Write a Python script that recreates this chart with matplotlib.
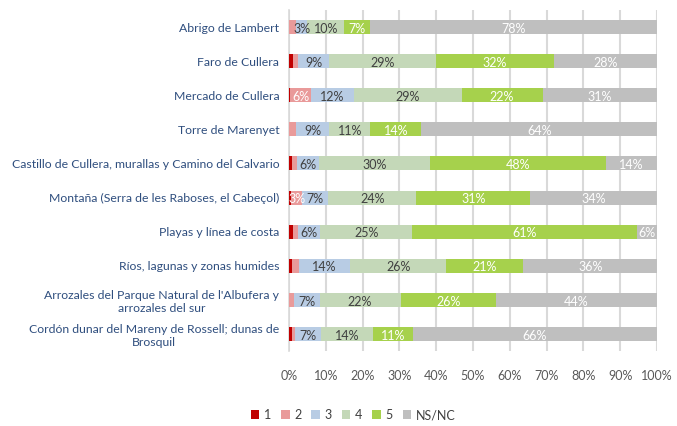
import numpy as np
import matplotlib.pyplot as plt

plt.rcParams['font.family'] = ['Lato', 'DejaVu Sans']

places = ["Abrigo de Lambert",
          "Faro de Cullera",
          "Mercado de Cullera",
          "Torre de Marenyet",
          "Castillo de Cullera, murallas y Camino del Calvario",
          "Montaña (Serra de les Raboses, el Cabeçol)",
          "Playas y línea de costa",
          "Ríos, lagunas y zonas humides",
          "Arrozales del Parque Natural de l'Albufera y\narrozales del sur",
          "Cordón dunar del Mareny de Rossell; dunas de\nBrosquil"]

score1 = [0.0, 1.1, 0.4, 0.0, 0.7, 0.6, 1.2, 0.7, 0.0, 0.7]
score2 = [2.0, 1.3, 5.6, 2.0, 1.5, 3.0, 1.3, 2.0, 1.3, 1.0]
score3 = [3.0, 8.6, 11.6, 9.0, 6.0, 7.0, 6.0, 14.0, 7.0, 7.0]
score4 = [10.0, 29.0, 29.3, 11.0, 30.0, 24.0, 25.0, 26.0, 22.0, 14.0]
score5 = [7.0, 32.0, 22.0, 14.0, 48.0, 31.0, 61.0, 21.0, 26.0, 11.0]
nsnc = [78.0, 28.0, 31.1, 64.0, 13.8, 34.4, 5.5, 36.3, 43.7, 66.3]

series = [("1", score1, "#C00000", "white"),
          ("2", score2, "#E99A9A", "white"),
          ("3", score3, "#B8CCE4", "#404040"),
          ("4", score4, "#C4D8B8", "#404040"),
          ("5", score5, "#A6D14C", "white"),
          ("NS/NC", nsnc, "#BFBFBF", "white")]

fig = plt.figure(figsize=(6.77, 4.26), dpi=100)
ax = fig.add_axes([289 / 677, 1 - 351 / 426, 368 / 677, 341 / 426])

y = np.arange(len(places))
left = np.zeros(len(places))
for name, vals, col, tcol in series:
    vals = np.array(vals)
    ax.barh(y, vals, left=left, height=0.41, color=col, label=name, zorder=3)
    for yi, l, v in zip(y, left, vals):
        if v >= 2.5:
            ax.text(l + v / 2, yi + 0.05, f"{round(v)}%", ha='center', va='center',
                    fontsize=9, color=tcol, zorder=4)
    left += vals

ax.set_xlim(0, 100)
ax.set_ylim(len(places) - 0.5, -0.5)
ax.set_xticks(np.arange(0, 101, 10))
ax.set_xticklabels([f"{t}%" for t in range(0, 101, 10)])
ax.set_yticks(y)
ax.set_yticklabels(places, multialignment='center')
ax.tick_params(axis='y', length=0, pad=7, labelsize=8.8, labelcolor='#2F4E7E')
ax.tick_params(axis='x', length=0, pad=14, labelsize=9, labelcolor='#595959')
ax.grid(axis='x', color='#D9D9D9', linewidth=1.5, zorder=0)
for s in ['top', 'right', 'bottom']:
    ax.spines[s].set_visible(False)
ax.spines['left'].set_color('#D9D9D9')
ax.spines['left'].set_linewidth(1.2)

ax.legend(loc='center', bbox_to_anchor=(353 / 677, 1 - 415 / 426), bbox_transform=fig.transFigure,
          ncol=6, frameon=False, fontsize=9, handlelength=0.7, handleheight=0.7,
          handletextpad=0.35, columnspacing=0.8, labelcolor='#404040')

fig.savefig('out.png', dpi=100)
